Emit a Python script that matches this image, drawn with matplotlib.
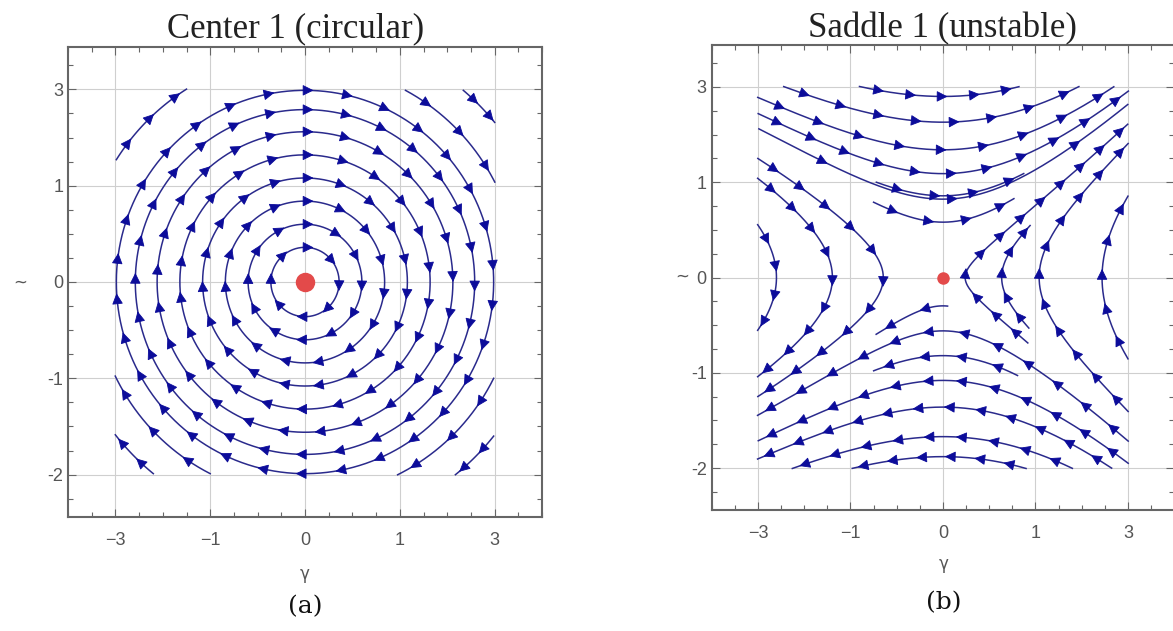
import matplotlib.pyplot as plt
import numpy as np
from matplotlib.patches import FancyArrowPatch
from matplotlib.ticker import MultipleLocator

# ---------------- data ----------------
tick_pos = [-2, -1, 0, 1, 2]
x_tick_labels = ['\u22123', '\u22121', '0', '1', '3']
y_tick_labels = ['-2', '-1', '0', '1', '3']

# (a) Center 1: closed clockwise rings, radius and arrowheads per ring
ring_r = [0.36, 0.60, 0.84, 1.08, 1.32, 1.56, 1.79, 1.99]
ring_arrows = [8, 12, 15, 19, 22, 25, 28, 30]

# (a) open arcs in the corners: upstream start point and arrowheads
arc_x0 = [-1.99, 1.06, 1.67, 1.99, 1.99, -1.00, -1.60]
arc_y0 = [1.27, 1.99, 1.99, -1.00, -1.60, -1.99, -1.99]
arc_arrows = [3, 3, 2, 3, 2, 3, 2]

# (b) Saddle 1: seed point of each streamline, where it stops going
# backward / forward (nan = runs to the frame) and its arrowheads
sad_x0 = [0, 0, 0, 0, -1.99, -0.72, -0.75,
          -0.645, -1.195, -1.80,
          0.24, 0.635, 1.04, 1.72,
          0, 0, 0, 0, 0, 0, 0.05]
sad_y0 = [1.90, 1.63, 1.34, 1.09, 1.56, 1.00, 0.79,
          0, 0, 0,
          0, 0, 0, 0,
          -0.56, -0.82, -1.08, -1.36, -1.67, -1.88, -0.30]
sad_bx = [np.nan] * 10 + [0.91, 0.95, np.nan, np.nan,
                          np.nan, 0.82, np.nan, np.nan, np.nan, np.nan, np.nan]
sad_by = [np.nan] * 10 + [-0.70, -0.51, np.nan, np.nan,
                          np.nan, -1.01, np.nan, np.nan, np.nan, np.nan, np.nan]
sad_fx = [np.nan, np.nan, np.nan, np.nan, -0.86, 0.855, 0.73,
          np.nan, np.nan, np.nan,
          np.nan, 0.93, np.nan, np.nan,
          np.nan, -0.75, np.nan, np.nan, np.nan, np.nan, -0.70]
sad_fy = [np.nan, np.nan, np.nan, np.nan, 0.87, 1.12, 0.89,
          np.nan, np.nan, np.nan,
          np.nan, 0.56, np.nan, np.nan,
          np.nan, -0.99, np.nan, np.nan, np.nan, np.nan, -0.63]
# lines drawn only downstream of their seed
sad_one_way = [False, False, False, False, True, True, True,
               False, False, False,
               False, False, False, False,
               False, False, False, False, False, False, True]
sad_arrows = [5, 8, 9, 11, 3, 4, 4,
              11, 9, 4,
              12, 5, 11, 5,
              12, 4, 12, 12, 9, 6, 2]

LINE = '#2a2a8c'
HEAD = '#0c0c9a'
DOT = '#e34a4a'
GRID = '#cfcfcf'
FRAME = '#666666'
LABEL = '#555555'

W, H = 1173, 631


def center_field(x, y):
    return y, -x


def saddle_field(x, y):
    return y, 0.55 * x + 0.08 * x * x


def trace(field, x0, y0, sign, xe=np.nan, ye=np.nan, closed=False, ds=0.01):
    """Follow the field (unit speed) until the frame, the end point or a full turn."""
    def f(p):
        u, v = field(p[0], p[1])
        n = np.hypot(u, v) + 1e-12
        return sign * np.array([u / n, v / n])

    p = np.array([x0, y0], float)
    pts = [p.copy()]
    best = np.inf
    for i in range(3000):
        k1 = f(p)
        k2 = f(p + 0.5 * ds * k1)
        k3 = f(p + 0.5 * ds * k2)
        k4 = f(p + ds * k3)
        q = p + ds / 6 * (k1 + 2 * k2 + 2 * k3 + k4)
        if abs(q[0]) > 2.005 or abs(q[1]) > 2.005:
            break
        if closed or not np.isnan(xe):
            tx, ty = (x0, y0) if closed else (xe, ye)
            d = np.hypot(q[0] - tx, q[1] - ty)
            if (not closed or i > 50) and d > best and best < 0.08:
                break
            if not closed or i > 50:
                best = min(best, d)
        p = q
        pts.append(p.copy())
    return np.array(pts)


def draw_line(ax, pts, n, closed=False):
    ax.plot(pts[:, 0], pts[:, 1], color=LINE, lw=1.1, zorder=3)
    seg = np.hypot(*np.diff(pts, axis=0).T)
    s = np.concatenate([[0], np.cumsum(seg)])
    if closed:
        where = s[-1] * np.arange(n) / n
    else:
        where = s[-1] * (np.arange(n) + 0.5) / n
    for w in where:
        k = min(np.searchsorted(s, w), len(pts) - 2)
        t = pts[k + 1] - pts[k]
        t = t / (np.hypot(*t) + 1e-12)
        a = FancyArrowPatch(pts[k] - 0.02 * t, pts[k] + 0.09 * t,
                            arrowstyle='-|>', mutation_scale=17,
                            shrinkA=0, shrinkB=0, color=HEAD, lw=0.6, zorder=4)
        ax.add_patch(a)


def style_axes(ax):
    ax.set_xlim(-2.5, 2.5)
    ax.set_ylim(-2.44, 2.44)
    ax.set_xticks(tick_pos)
    ax.set_xticklabels(x_tick_labels)
    ax.set_yticks(tick_pos)
    ax.set_yticklabels(y_tick_labels)
    ax.xaxis.set_minor_locator(MultipleLocator(0.25))
    ax.yaxis.set_minor_locator(MultipleLocator(0.25))
    ax.tick_params(which='both', direction='in', top=True, right=True,
                   color=FRAME, labelcolor=LABEL, labelsize=13)
    ax.tick_params(which='major', length=6, width=0.8)
    ax.tick_params(which='minor', length=3.5, width=0.8)
    ax.tick_params(axis='x', pad=11)
    ax.tick_params(axis='y', pad=3.5)
    for lab in ax.get_xticklabels() + ax.get_yticklabels():
        lab.set_family('Liberation Sans')
    ax.grid(True, which='major', color=GRID, linewidth=0.8)
    ax.set_axisbelow(True)
    for s in ax.spines.values():
        s.set_color(FRAME)
        s.set_linewidth(1.5)


def px(x, y):
    return x / W, 1 - y / H


fig = plt.figure(figsize=(W / 100, H / 100), dpi=100)
ax1 = fig.add_axes([68 / W, 1 - 517 / H, 474 / W, 470 / H])
ax2 = fig.add_axes([711.7 / W, 1 - 510 / H, 462.5 / W, 465 / H])

# ---- (a) center ----
for r, n in zip(ring_r, ring_arrows):
    pts = trace(center_field, 0.0, r, 1, closed=True)
    draw_line(ax1, pts, n, closed=True)
for x0, y0, n in zip(arc_x0, arc_y0, arc_arrows):
    draw_line(ax1, trace(center_field, x0, y0, 1), n)
ax1.plot([0], [0], 'o', color=DOT, markersize=14, mec='none', zorder=5)
style_axes(ax1)

# ---- (b) saddle ----
for i in range(len(sad_x0)):
    fwd = trace(saddle_field, sad_x0[i], sad_y0[i], 1, sad_fx[i], sad_fy[i])
    if sad_one_way[i]:
        pts = fwd
    else:
        back = trace(saddle_field, sad_x0[i], sad_y0[i], -1, sad_bx[i], sad_by[i])
        pts = np.vstack([back[::-1], fwd[1:]])
    draw_line(ax2, pts, sad_arrows[i])
ax2.plot([0], [0], 'o', color=DOT, markersize=9, mec='none', zorder=5)
style_axes(ax2)

# titles, axis labels and panel tags
fig.text(*px(296, 37), 'Center 1 (circular)', ha='center', va='baseline',
         fontsize=25, family='Liberation Serif', color='#222222')
fig.text(*px(942, 37), 'Saddle 1 (unstable)', ha='center', va='baseline',
         fontsize=25, family='Liberation Serif', color='#222222')
fig.text(*px(305, 574), '\u03b3', ha='center', va='center', fontsize=12, color=LABEL)
fig.text(*px(944, 564), '\u03b3', ha='center', va='center', fontsize=12, color=LABEL)
fig.text(*px(20, 283), '~', ha='center', va='center', fontsize=12, color=LABEL)
fig.text(*px(682, 277), '~', ha='center', va='center', fontsize=12, color=LABEL)
fig.text(*px(305, 607), '(a)', ha='center', va='center', fontsize=18,
         family='DejaVu Serif', color='#111111')
fig.text(*px(944, 603), '(b)', ha='center', va='center', fontsize=18,
         family='DejaVu Serif', color='#111111')

fig.savefig('out.png', dpi=100)
